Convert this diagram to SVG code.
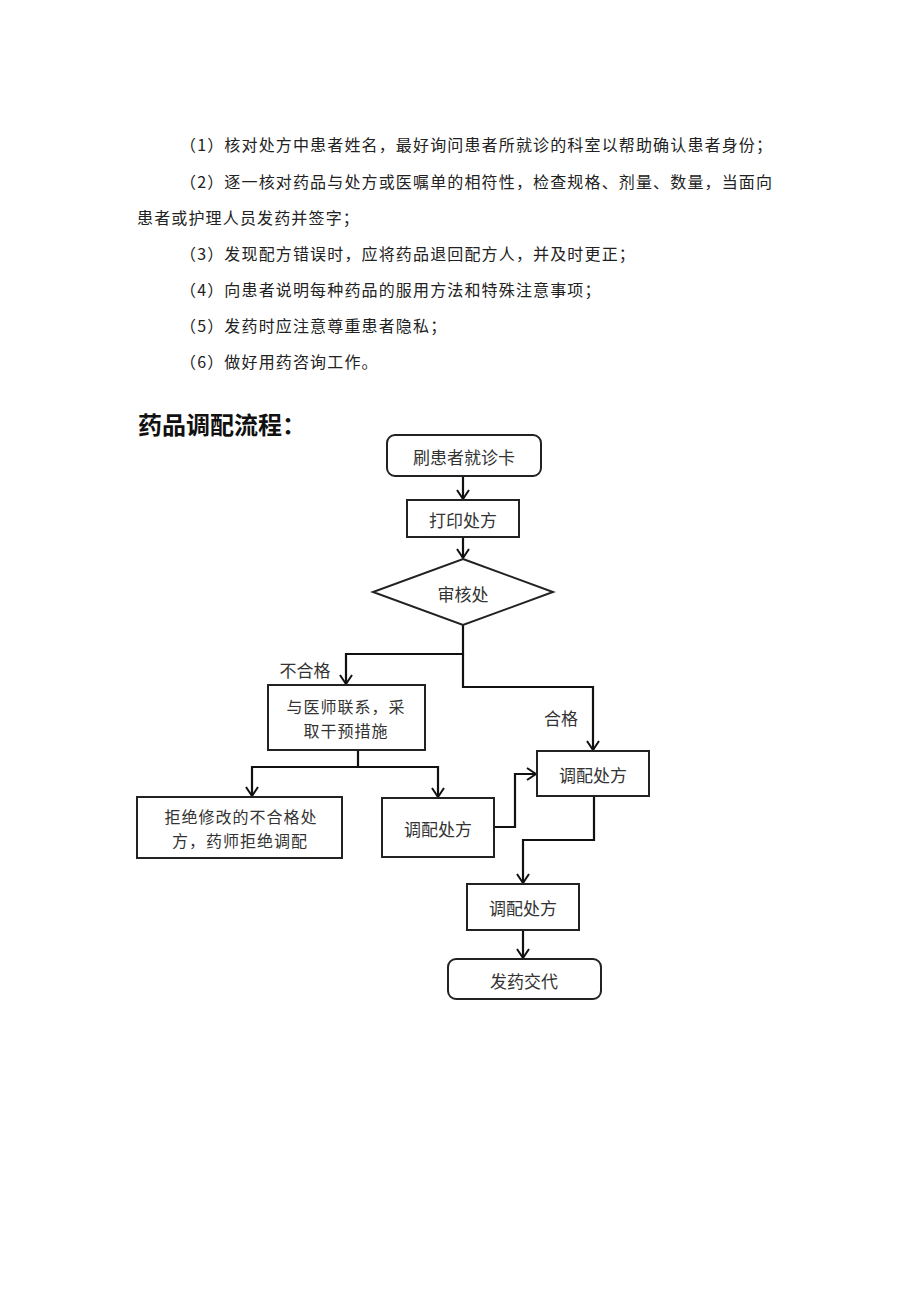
<svg xmlns="http://www.w3.org/2000/svg" width="920" height="1301" viewBox="0 0 920 1301">
<defs>
<style>
.p{font-family:"Noto Sans CJK SC","Liberation Serif",serif;font-size:16px;fill:#222;letter-spacing:1.15px}
.t{font-family:"Noto Sans CJK SC","Liberation Sans",sans-serif;font-size:24px;font-weight:bold;fill:#111}
.n{font-family:"Noto Sans CJK SC","Liberation Serif",serif;font-size:17px;fill:#333;text-anchor:middle;dominant-baseline:central}
.n2{font-family:"Noto Sans CJK SC","Liberation Serif",serif;font-size:16px;fill:#333;text-anchor:middle;dominant-baseline:central;letter-spacing:1px}
.b{fill:#fff;stroke:#222;stroke-width:2}
.c{fill:none;stroke:#111;stroke-width:2.2}
</style>
<marker id="ar" viewBox="-11 -7 13 14" markerWidth="13" markerHeight="14" refX="0" refY="0" orient="auto" markerUnits="userSpaceOnUse">
<path d="M-9,-6 L0,0 L-9,6" fill="none" stroke="#111" stroke-width="2"/>
</marker>
</defs>
<rect width="920" height="1301" fill="#fff"/>
<g id="paragraphs">
<text class="p" x="180" y="151">（1）核对处方中患者姓名，最好询问患者所就诊的科室以帮助确认患者身份；</text>
<text class="p" x="180" y="188">（2）逐一核对药品与处方或医嘱单的相符性，检查规格、剂量、数量，当面向</text>
<text class="p" x="137" y="224">患者或护理人员发药并签字；</text>
<text class="p" x="180" y="260">（3）发现配方错误时，应将药品退回配方人，并及时更正；</text>
<text class="p" x="180" y="296">（4）向患者说明每种药品的服用方法和特殊注意事项；</text>
<text class="p" x="180" y="332">（5）发药时应注意尊重患者隐私；</text>
<text class="p" x="180" y="368">（6）做好用药咨询工作。</text>
</g>
<text id="title" class="t" x="138" y="434">药品调配流程：</text>
<g id="connectors">
<path class="c" d="M463,476 V499" marker-end="url(#ar)"/>
<path class="c" d="M463,537 V558" marker-end="url(#ar)"/>
<path class="c" d="M463,625 V654 H346 V684" marker-end="url(#ar)"/>
<path class="c" d="M463,654 V687 H593 V750" marker-end="url(#ar)"/>
<path class="c" d="M358,750 V767"/>
<path class="c" d="M358,767 H252 V796" marker-end="url(#ar)"/>
<path class="c" d="M358,767 H438 V797" marker-end="url(#ar)"/>
<path class="c" d="M494,827 H515 V774 H536" marker-end="url(#ar)"/>
<path class="c" d="M594,796 V840 H523 V883" marker-end="url(#ar)"/>
<path class="c" d="M523,930 V958" marker-end="url(#ar)"/>
<text class="n" x="305" y="669">不合格</text>
<text class="n" x="561" y="717">合格</text>
</g>
<g id="n_start"><rect class="b" x="387" y="435" width="154" height="41" rx="8"/><text class="n" x="464" y="456">刷患者就诊卡</text></g>
<g id="n_print"><rect class="b" x="407" y="500" width="112" height="37"/><text class="n" x="463" y="519">打印处方</text></g>
<g id="n_review"><polygon class="b" points="463,559 553,592 463,625 373,592"/><text class="n" x="463" y="593">审核处</text></g>
<g id="n_contact"><rect class="b" x="268" y="685" width="157" height="65"/><text class="n2" x="346" y="706">与医师联系，采</text><text class="n2" x="346" y="730">取干预措施</text></g>
<g id="n_reject"><rect class="b" x="137" y="797" width="205" height="61"/><text class="n2" x="241" y="816">拒绝修改的不合格处</text><text class="n2" x="240" y="840">方，药师拒绝调配</text></g>
<g id="n_disp_left"><rect class="b" x="382" y="798" width="112" height="59"/><text class="n" x="438" y="828">调配处方</text></g>
<g id="n_disp_right"><rect class="b" x="537" y="751" width="112" height="45"/><text class="n" x="593" y="774">调配处方</text></g>
<g id="n_disp_bottom"><rect class="b" x="467" y="884" width="112" height="46"/><text class="n" x="523" y="907">调配处方</text></g>
<g id="n_final"><rect class="b" x="448" y="959" width="153" height="40" rx="8"/><text class="n" x="524" y="980">发药交代</text></g>
</svg>
